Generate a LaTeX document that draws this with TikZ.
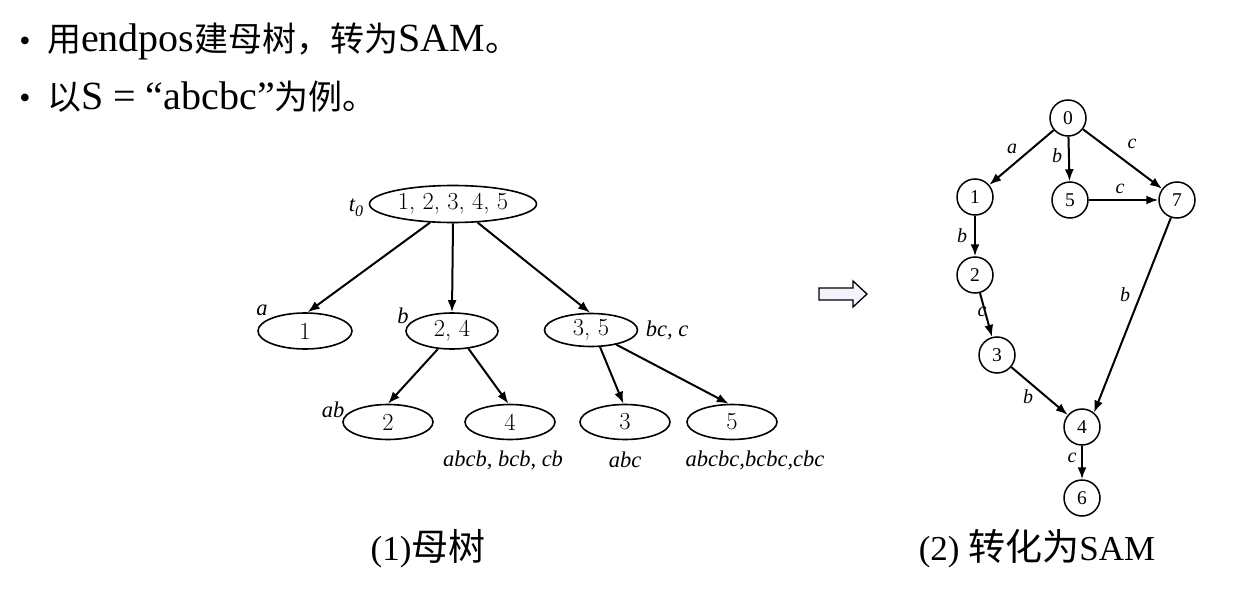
\documentclass[tikz,border=0pt]{standalone}
\usepackage{fontspec}
\newfontfamily\tms{Liberation Serif}
\newfontfamily\cjk{Noto Sans CJK SC}
\newcommand{\myhz}[1]{{\cjk\fontsize{34}{34}\selectfont #1}}
\newcommand{\mycap}[1]{{\cjk\fontsize{37}{37}\selectfont #1}}
\usetikzlibrary{shapes.geometric,arrows.meta}
\definecolor{arrowfill}{HTML}{F2F3FC}
\begin{document}
\begin{tikzpicture}[x=1pt,y=-1pt,
 ell/.style={ellipse,draw,line width=1.6pt,inner sep=0pt,minimum height=36pt,font=\fontsize{24.5}{24.5}\selectfont},
 st/.style={circle,draw,line width=1.5pt,minimum size=36pt,inner sep=0pt,font=\tms\fontsize{19.5}{19.5}\selectfont},
 arr/.style={-{Latex[length=12pt,width=9pt]},line width=2pt},
 lab/.style={font=\tms\itshape\fontsize{22.5}{22.5}\selectfont,inner sep=0pt},
 elab/.style={font=\tms\itshape\fontsize{20}{20}\selectfont,inner sep=0pt},
 big/.style={font=\tms\fontsize{40}{40}\selectfont,inner sep=0pt},
 captext/.style={font=\tms\fontsize{35}{35}\selectfont,inner sep=0pt}
]
\useasboundingbox (0,0) rectangle (1248,610);

% bullets
\node[font=\tms\fontsize{32}{32}\selectfont,inner sep=0pt] (d1) at (25,44) {\textbullet};
\node[big,anchor=base west] (b1) at (47,52) {\myhz{用}endpos\myhz{建母树，转为}SAM\myhz{。}};
\node[font=\tms\fontsize{32}{32}\selectfont,inner sep=0pt] (d2) at (25,101) {\textbullet};
\node[big,anchor=base west] (b2) at (47,110) {\myhz{以}S = “abcbc”\myhz{为例。}};

% parent tree
\node[ell,minimum width=167pt,minimum height=37pt] (r) at (453,204) {1, 2, 3, 4, 5};
\node[ell,minimum width=94pt] (n1) at (305,331) {1};
\node[ell,minimum width=92pt] (n24) at (452,331) {2, 4};
\node[ell,minimum width=93pt,minimum height=33pt] (n35) at (591,330) {3, 5};
\node[ell,minimum width=90pt,minimum height=35pt] (n2) at (388,422) {2};
\node[ell,minimum width=90pt,minimum height=35pt] (n4) at (510,422) {4};
\node[ell,minimum width=90pt,minimum height=35pt] (n3) at (625,422) {3};
\node[ell,minimum width=90pt,minimum height=35pt] (n5) at (732,422) {5};

\node[lab] (lt) at (356,208) {t\raisebox{-5pt}{\fontsize{16}{16}\selectfont 0}};
\node[lab] (la) at (262,310) {a};
\node[lab] (lb) at (403,316) {b};
\node[lab] (lbc) at (667,330) {bc, c};
\node[lab] (lab2) at (333,410) {ab};
\node[lab] (l4) at (503,460) {abcb, bcb, cb};
\node[lab] (l3) at (625,460) {abc};
\node[lab] (l5) at (755,460) {abcbc,bcbc,cbc};

\draw[arr] (r.219) -- (n1.82);
\draw[arr] (r.south) -- (n24.north);
\draw[arr] (r.323) -- (n35.93);
\draw[arr] (n24.232) -- (n2.north);
\draw[arr] (n24.313) -- (n4.95);
\draw[arr] (n35.298) -- (n3.95);
\draw[arr] (n35.330) -- (n5.100);

\node[captext,anchor=base] (c1) at (428,560) {(1)\mycap{母树}};

% hollow arrow
\draw[line width=1.3pt,fill=arrowfill,line join=miter] (819,288) -- (853,288) -- (853,281) -- (867,294) -- (853,307) -- (853,300) -- (819,300) -- cycle;

% SAM
\node[st] (s0) at (1068,118) {0};
\node[st] (s1) at (975,197) {1};
\node[st] (s5) at (1070,200) {5};
\node[st] (s7) at (1177,200) {7};
\node[st] (s2) at (975,275) {2};
\node[st] (s3) at (997,355) {3};
\node[st] (s4) at (1082,427) {4};
\node[st] (s6) at (1082,498) {6};

\draw[arr] (s0) -- (s1);
\draw[arr] (s0) -- (s5);
\draw[arr] (s0) -- (s7);
\draw[arr] (s5) -- (s7);
\draw[arr] (s1) -- (s2);
\draw[arr] (s2) -- (s3);
\draw[arr] (s3) -- (s4);
\draw[arr] (s7.251) -- (s4.50);
\draw[arr] (s4) -- (s6);

\node[elab] (ea) at (1012,149) {a};
\node[elab] (eb0) at (1057,156) {b};
\node[elab] (ec0) at (1132,144) {c};
\node[elab] (ec5) at (1120,189) {c};
\node[elab] (eb1) at (962,236) {b};
\node[elab] (ec2) at (982,312) {c};
\node[elab] (eb7) at (1125,295) {b};
\node[elab] (eb3) at (1028,397) {b};
\node[elab] (ec4) at (1072,458) {c};

\node[captext,anchor=base] (c2) at (1037,560) {(2) \mycap{转化为}SAM};
\end{tikzpicture}
\end{document}
